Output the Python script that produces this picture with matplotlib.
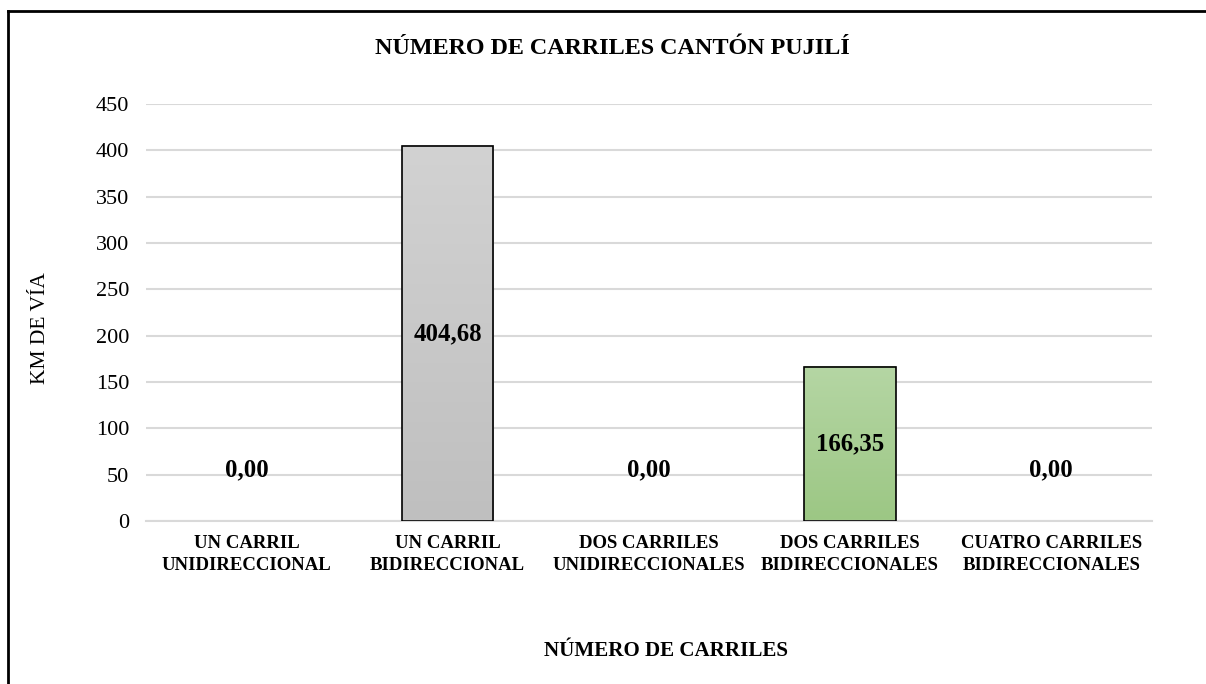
import matplotlib.pyplot as plt
import numpy as np
from matplotlib.colors import LinearSegmentedColormap
from matplotlib.lines import Line2D

# Datos
categorias = ["UN CARRIL\nUNIDIRECCIONAL", "UN CARRIL\nBIDIRECCIONAL",
              "DOS CARRILES\nUNIDIRECCIONALES", "DOS CARRILES\nBIDIRECCIONALES",
              "CUATRO CARRILES\nBIDIRECCIONALES"]
km_via = [0.00, 404.68, 0.00, 166.35, 0.00]
colores = [("#c8c8c8", "#bdbdbd"), ("#d2d2d2", "#bfbfbf"), ("#c8c8c8", "#bdbdbd"),
           ("#b5d6a4", "#9cc784"), ("#c8c8c8", "#bdbdbd")]

plt.rcParams['font.family'] = ['Liberation Serif', 'DejaVu Serif']

fig = plt.figure(figsize=(12.06, 6.84), dpi=100)
ax = fig.add_axes([0.121, 0.238, 0.834, 0.61])

x = np.arange(len(categorias))
ancho = 0.455
# las barras de valor cero no dibujan borde
bordes = [1.2 if v > 0 else 0 for v in km_via]
barras = ax.bar(x, km_via, width=ancho, facecolor="none", edgecolor="black",
                linewidth=bordes, zorder=3)

# Relleno degradado de cada barra
grad = np.linspace(0, 1, 256).reshape(-1, 1)
for b, (arriba, abajo) in zip(barras, colores):
    h = b.get_height()
    if h <= 0:
        continue
    cmap = LinearSegmentedColormap.from_list("g", [abajo, arriba])
    x0 = b.get_x()
    ax.imshow(grad, cmap=cmap, aspect="auto", origin="lower",
              extent=(x0, x0 + b.get_width(), 0, h), zorder=2)

# Etiquetas de valores
for xi, v in zip(x, km_via):
    txt = f"{v:.2f}".replace(".", ",")
    if v > 0:
        ax.text(xi, v / 2, txt, ha="center", va="center", fontsize=17.8,
                fontweight="bold", zorder=4)
    else:
        ax.annotate(txt, (xi, 0), xytext=(0, 37), textcoords="offset points",
                    ha="center", va="center", fontsize=17.8, fontweight="bold")

ax.set_xlim(-0.5, 4.5)
ax.set_ylim(0, 450)
ax.set_yticks(range(0, 451, 50))
ax.grid(axis="y", color="#d9d9d9", linewidth=1.5, zorder=0)
ax.set_axisbelow(True)
for s in ["top", "right", "left"]:
    ax.spines[s].set_visible(False)
ax.spines["bottom"].set_color("#d9d9d9")
ax.spines["bottom"].set_linewidth(1.5)
ax.tick_params(length=0, labelsize=16, pad=12)
ax.set_xticks(x)
ax.set_xticklabels(categorias, fontsize=13.5, fontweight="bold", linespacing=1.35)
ax.tick_params(axis="x", pad=10)

ax.set_ylabel("KM DE VÍA", fontsize=15.5, va="center")
ax.yaxis.set_label_coords(-0.105, 0.463)
ax.set_xlabel("NÚMERO DE CARRILES", fontsize=15.1, fontweight="bold", va="center")
ax.xaxis.set_label_coords(0.517, -0.31)
fig.text(0.508, 0.929, "NÚMERO DE CARRILES CANTÓN PUJILÍ", ha="center", va="center",
         fontsize=17.4, fontweight="bold")

# Borde del gráfico (izquierda y arriba)
fig.add_artist(Line2D([8 / 1206, 8 / 1206], [0, 1 - 11 / 684], color="black",
                      linewidth=2, transform=fig.transFigure))
fig.add_artist(Line2D([8 / 1206, 1], [1 - 11 / 684, 1 - 11 / 684], color="black",
                      linewidth=2, transform=fig.transFigure))

fig.savefig("out.png", dpi=100)
